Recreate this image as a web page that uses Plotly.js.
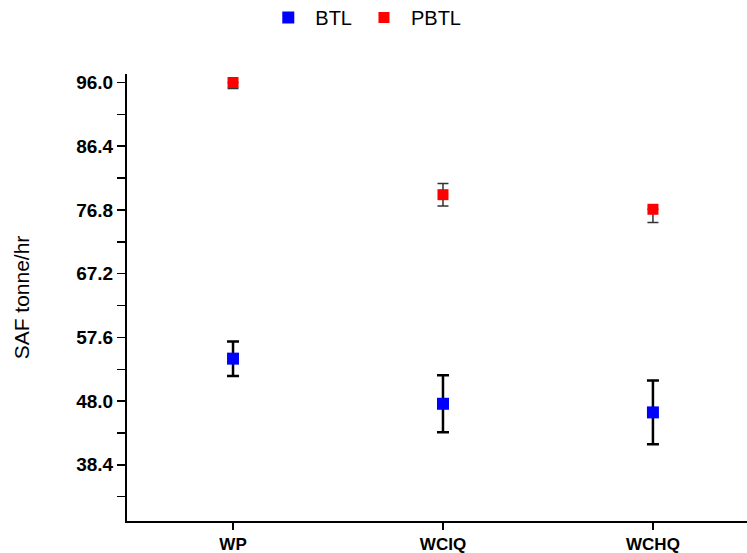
<!DOCTYPE html>
<html>
<head>
<meta charset="utf-8">
<script src="https://cdn.plot.ly/plotly-3.0.1.min.js"></script>
<style>html,body{margin:0;padding:0;background:#fff;}#chart{width:747px;height:553px;}</style>
</head>
<body>
<div id="chart"></div>
<script>
var categories = ["WP", "WCIQ", "WCHQ"];
var btlValues = [54.4, 47.6, 46.3];
var btlErrPlus = [2.6, 4.3, 4.8];
var btlErrMinus = [2.6, 4.3, 4.8];
var pbtlValues = [96.0, 79.1, 76.9];
var pbtlErrPlus = [0.0, 1.7, 0.0];
var pbtlErrMinus = [0.9, 1.7, 2.0];
var yTickVals = [38.4, 48.0, 57.6, 67.2, 76.8, 86.4, 96.0];
var yTickText = ["38.4", "48.0", "57.6", "67.2", "76.8", "86.4", "96.0"];

var FONT = "'Liberation Sans', Arial, sans-serif";

var traces = [
  {
    type: "scatter", mode: "markers", name: "BTL",
    x: categories, y: btlValues,
    marker: {symbol: "square", size: 12, color: "#0000ff"},
    error_y: {type: "data", symmetric: false, array: btlErrPlus, arrayminus: btlErrMinus,
              color: "#000000", thickness: 2.5, width: 6}
  },
  {
    type: "scatter", mode: "markers", name: "PBTL",
    x: categories, y: pbtlValues,
    marker: {symbol: "square", size: 11, color: "#ff0000"},
    error_y: {type: "data", symmetric: false, array: pbtlErrPlus, arrayminus: pbtlErrMinus,
              color: "#333333", thickness: 1.5, width: 5.5}
  }
];

var layout = {
  width: 747, height: 553,
  margin: {l: 127, r: 0, t: 74, b: 32, pad: 0},
  paper_bgcolor: "#ffffff", plot_bgcolor: "#ffffff",
  font: {family: FONT, color: "#000000"},
  showlegend: true,
  legend: {
    orientation: "h", xref: "container", yref: "container",
    x: 0.487, xanchor: "center", y: 1 - 17.5/553, yanchor: "middle",
    font: {size: 20, family: FONT, color: "#000"},
    itemwidth: 44, bgcolor: "rgba(0,0,0,0)"
  },
  xaxis: {
    type: "category", categoryorder: "array", categoryarray: categories,
    range: [-0.505, 2.448],
    showline: true, linecolor: "#000", linewidth: 2,
    ticks: "outside", ticklen: 7, tickwidth: 1.5, tickcolor: "#000",
    showgrid: false, zeroline: false,
    tickfont: {size: 17, family: FONT, color: "#000", weight: "bold"}
  },
  yaxis: {
    range: [29.94, 97.28],
    tickmode: "array", tickvals: yTickVals, ticktext: yTickText,
    showline: true, linecolor: "#000", linewidth: 2,
    ticks: "outside", ticklen: 8, tickwidth: 1.5, tickcolor: "#000",
    minor: {tickmode: "linear", tick0: 0, dtick: 4.8, ticks: "outside", ticklen: 8, tickwidth: 1.5, tickcolor: "#000", showgrid: false},
    showgrid: false, zeroline: false,
    tickfont: {size: 19, family: FONT, color: "#000", weight: "bold"},
    title: {text: "SAF tonne/hr", font: {size: 21, family: FONT, color: "#000"}, standoff: 41}
  }
};

Plotly.newPlot("chart", traces, layout, {displayModeBar: false, staticPlot: true});
</script>
</body>
</html>
